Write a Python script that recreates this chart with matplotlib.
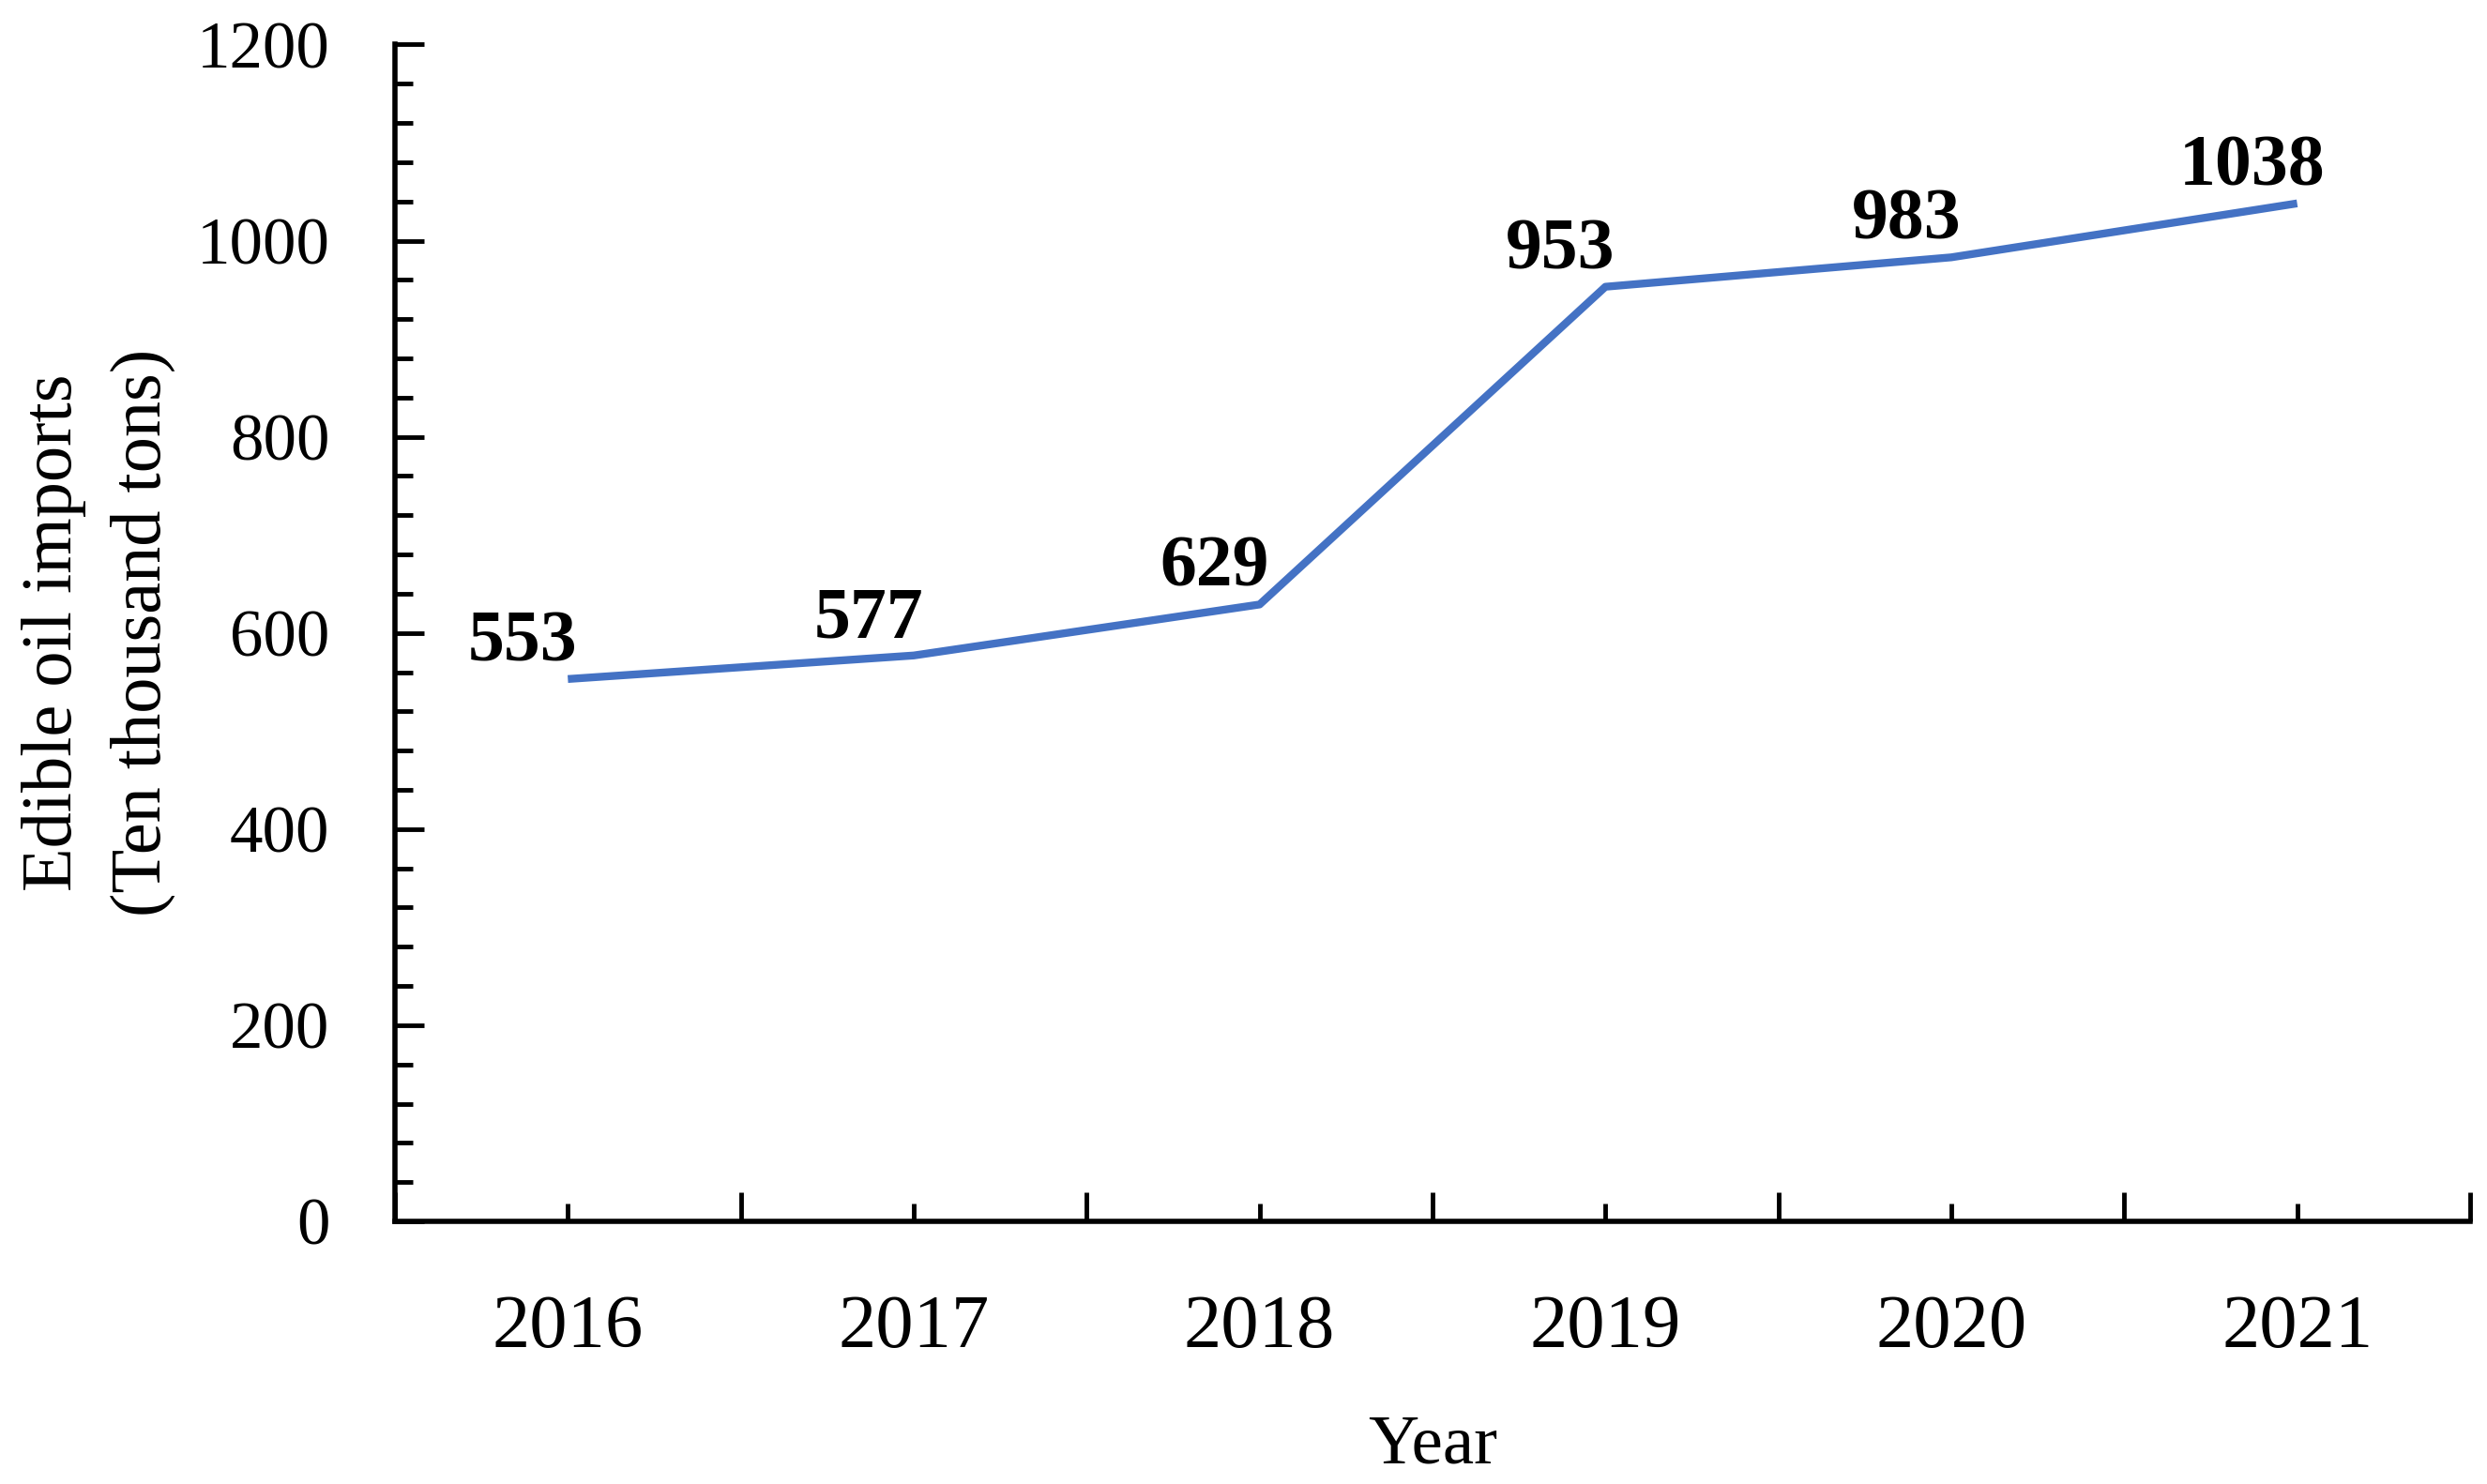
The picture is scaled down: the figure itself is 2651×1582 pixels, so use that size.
import numpy as np
import matplotlib.pyplot as plt
from matplotlib.ticker import MultipleLocator, FixedLocator

years = ["2016", "2017", "2018", "2019", "2020", "2021"]
imports = [553, 577, 629, 953, 983, 1038]

plt.rcParams['font.family'] = ['Liberation Serif', 'DejaVu Serif']

fig = plt.figure(figsize=(26.51, 15.82), dpi=100)
ax = fig.add_axes([0.1588, 0.177, 0.8344, 0.793])

x = np.arange(len(years))
ax.plot(x, imports, color='#4472C4', lw=6, solid_capstyle='butt')

# data labels, bold, up and a bit to the left
for xi, v in zip(x, imports):
    ax.annotate(str(v), (xi, v), xytext=(-48, 38), textcoords='offset pixels',
                ha='center', va='center', fontsize=56, fontweight='bold')

ax.set_xlim(-0.5, len(years) - 0.5)
ax.set_ylim(0, 1200)

# category axis: long ticks at boundaries, short ticks at categories
ax.xaxis.set_major_locator(FixedLocator(np.arange(-0.5, len(years), 1.0)))
ax.set_xticklabels([])
ax.set_xticks(x, minor=True)
ax.set_xticklabels(years, minor=True)
ax.tick_params(axis='x', which='major', direction='in', length=22, width=3.5)
ax.tick_params(axis='x', which='minor', direction='in', length=14, width=3.5,
               labelsize=58, pad=56)

ax.yaxis.set_major_locator(MultipleLocator(200))
ax.yaxis.set_minor_locator(MultipleLocator(40))
ax.tick_params(axis='y', which='major', direction='in', length=22, width=3.5,
               labelsize=51, pad=50)
ax.tick_params(axis='y', which='minor', direction='in', length=14, width=3.5)

for s in ['top', 'right']:
    ax.spines[s].set_visible(False)
for s in ['left', 'bottom']:
    ax.spines[s].set_linewidth(4)

ax.set_xlabel("Year", fontsize=54, labelpad=40)
ax.set_ylabel("Edible oil imports\n(Ten thousand tons)", fontsize=55,
              labelpad=16, linespacing=1.5)

fig.savefig("out.png", dpi=100)
